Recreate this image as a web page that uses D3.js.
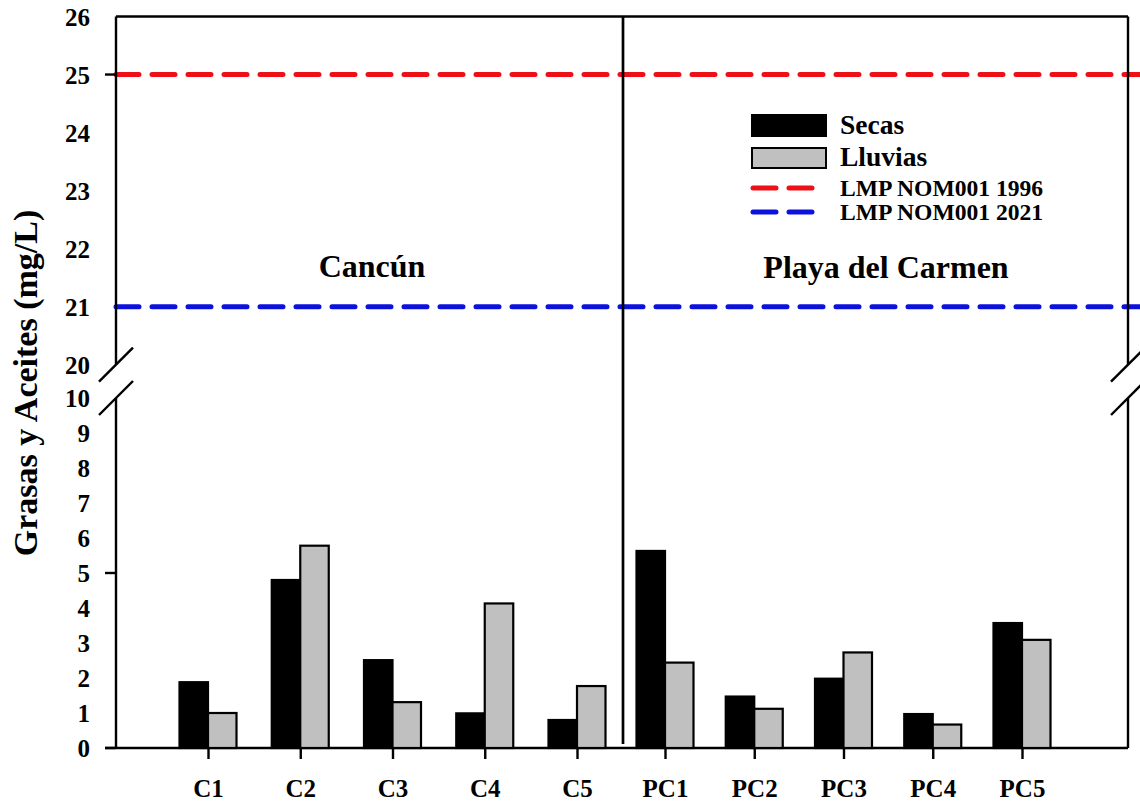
<!DOCTYPE html>
<html>
<head>
<meta charset="utf-8">
<script src="https://cdn.jsdelivr.net/npm/d3@7"></script>
<style>
  body { margin: 0; background: #fff; }
  text { font-family: "Liberation Serif", "Times New Roman", serif; font-weight: bold; fill: #000; }
</style>
</head>
<body>
<div id="chart"></div>
<script>
// data
var sitesCancun = ["C1", "C2", "C3", "C4", "C5"];
var sitesPlaya = ["PC1", "PC2", "PC3", "PC4", "PC5"];
var secas = [1.88, 4.80, 2.51, 0.99, 0.80, 5.63, 1.47, 1.98, 0.97, 3.57];
var lluvias = [1.00, 5.78, 1.31, 4.13, 1.77, 2.44, 1.12, 2.73, 0.67, 3.09];
var limitValues = [25, 21];
var limitLabels = ["LMP NOM001 1996", "LMP NOM001 2021"];
var seriesLabels = ["Secas", "Lluvias"];
var regionLabels = ["Cancún", "Playa del Carmen"];
var yTicksTop = [20, 21, 22, 23, 24, 25, 26];
var yTicksBottom = [0, 1, 2, 3, 4, 5, 6, 7, 8, 9, 10];
var yMajorTop = [25];
var yMajorBottom = [0, 5];

var W = 1140, H = 804;
var plotL = 116, plotR = 1128, plotT = 16.5, plotB = 748;
var barW = 28.5;
var limitColors = ["#ee0f17", "#0c12dc"];

var svg = d3.select("#chart").append("svg")
  .attr("width", W)
  .attr("height", H);

// broken y axis: two linear scales
var yTop = d3.scaleLinear().domain([20, 26]).range([364.7, plotT]);
var yBot = d3.scaleLinear().domain([0, 10]).range([plotB, 398]);

// two panels, one point scale each
var xC = d3.scalePoint().domain(sitesCancun).range([208, 577]);
var xP = d3.scalePoint().domain(sitesPlaya).range([665, 1022]);
var allSites = sitesCancun.concat(sitesPlaya);
function xPos(s) { return sitesCancun.indexOf(s) >= 0 ? xC(s) : xP(s); }

// limit lines (under the frame)
svg.append("g").selectAll("line")
  .data(limitValues)
  .join("line")
  .attr("x1", plotL).attr("x2", W)
  .attr("y1", d => yTop(d)).attr("y2", d => yTop(d))
  .attr("stroke", (d, i) => limitColors[i])
  .attr("stroke-width", 5)
  .attr("stroke-linecap", "round")
  .attr("stroke-dasharray", "23,13");

// frame
var frame = svg.append("g").attr("stroke", "#000").attr("stroke-width", 2.4).attr("fill", "none");
frame.append("line").attr("x1", plotL).attr("x2", plotR).attr("y1", plotT).attr("y2", plotT);
frame.append("line").attr("x1", 105).attr("x2", plotR).attr("y1", plotB).attr("y2", plotB);
[plotL, plotR].forEach(function(x) {
  frame.append("line").attr("x1", x).attr("x2", x).attr("y1", plotT).attr("y2", yTop(20));
  frame.append("line").attr("x1", x).attr("x2", x).attr("y1", yBot(10)).attr("y2", plotB);
  [yTop(20), yBot(10)].forEach(function(y) {
    frame.append("line")
      .attr("x1", x - 17).attr("y1", y + 17)
      .attr("x2", x + 17).attr("y2", y - 17);
  });
});

// divider between the two cities
frame.append("line").attr("x1", 623).attr("x2", 623).attr("y1", plotT).attr("y2", 744)
  .attr("stroke-width", 2.7);

// y tick labels
function yLabels(scale, ticks) {
  var g = svg.append("g")
    .attr("transform", "translate(" + plotL + ",0)")
    .call(d3.axisLeft(scale).tickValues(ticks).tickSize(0).tickPadding(26).tickFormat(d3.format("d")));
  g.select(".domain").remove();
  g.selectAll("text").style("font-size", "25px").attr("dy", "0.34em");
}
yLabels(yTop, yTicksTop);
yLabels(yBot, yTicksBottom);

// major tick marks
svg.append("g").selectAll("line")
  .data(yMajorTop.map(yTop).concat(yMajorBottom.map(yBot)))
  .join("line")
  .attr("x1", 105).attr("x2", plotL)
  .attr("y1", d => d).attr("y2", d => d)
  .attr("stroke", "#000").attr("stroke-width", 2.4);

// x axis
[xC, xP].forEach(function(sc) {
  var g = svg.append("g")
    .attr("transform", "translate(0," + plotB + ")")
    .call(d3.axisBottom(sc).tickSize(11).tickPadding(20).tickSizeOuter(0));
  g.select(".domain").remove();
  g.selectAll(".tick line").attr("stroke", "#000").attr("stroke-width", 2.4);
  g.selectAll("text").style("font-size", "25px");
});

// bars
var bars = svg.append("g");
bars.selectAll(".secas")
  .data(secas)
  .join("rect")
  .attr("class", "secas")
  .attr("x", (d, i) => xPos(allSites[i]) - barW)
  .attr("y", d => yBot(d))
  .attr("width", barW)
  .attr("height", d => plotB - yBot(d))
  .attr("fill", "#000")
  .attr("stroke", "#000")
  .attr("stroke-width", 2.2);
bars.selectAll(".lluvias")
  .data(lluvias)
  .join("rect")
  .attr("class", "lluvias")
  .attr("x", (d, i) => xPos(allSites[i]))
  .attr("y", d => yBot(d))
  .attr("width", barW)
  .attr("height", d => plotB - yBot(d))
  .attr("fill", "#c0c0c0")
  .attr("stroke", "#000")
  .attr("stroke-width", 2.2);

// region labels
svg.append("text").attr("x", 372).attr("y", 277).attr("text-anchor", "middle")
  .style("font-size", "32px").text(regionLabels[0]);
svg.append("text").attr("x", 886).attr("y", 278).attr("text-anchor", "middle")
  .style("font-size", "32px").text(regionLabels[1]);

// y axis title
svg.append("text")
  .attr("transform", "translate(37,383) rotate(-90)")
  .attr("text-anchor", "middle")
  .style("font-size", "34px")
  .text("Grasas y Aceites (mg/L)");

// legend
var lg = svg.append("g");
lg.append("rect").attr("x", 752).attr("y", 115).attr("width", 74).attr("height", 21)
  .attr("fill", "#000").attr("stroke", "#000").attr("stroke-width", 2);
lg.append("rect").attr("x", 752).attr("y", 148).attr("width", 74).attr("height", 20)
  .attr("fill", "#c0c0c0").attr("stroke", "#000").attr("stroke-width", 2);
lg.append("text").attr("x", 840).attr("y", 134).style("font-size", "27.5px").text(seriesLabels[0]);
lg.append("text").attr("x", 840).attr("y", 166).style("font-size", "27.5px").text(seriesLabels[1]);
lg.selectAll(".lim")
  .data(limitLabels)
  .join("g")
  .attr("class", "lim")
  .each(function(d, i) {
    var y = 188 + i * 24;
    d3.select(this).append("line")
      .attr("x1", 753).attr("x2", 812).attr("y1", y).attr("y2", y)
      .attr("stroke", limitColors[i]).attr("stroke-width", 5)
      .attr("stroke-linecap", "round").attr("stroke-dasharray", "23,13");
    d3.select(this).append("text")
      .attr("x", 840).attr("y", y + 8)
      .style("font-size", "23.6px").text(d);
  });
</script>
</body>
</html>
